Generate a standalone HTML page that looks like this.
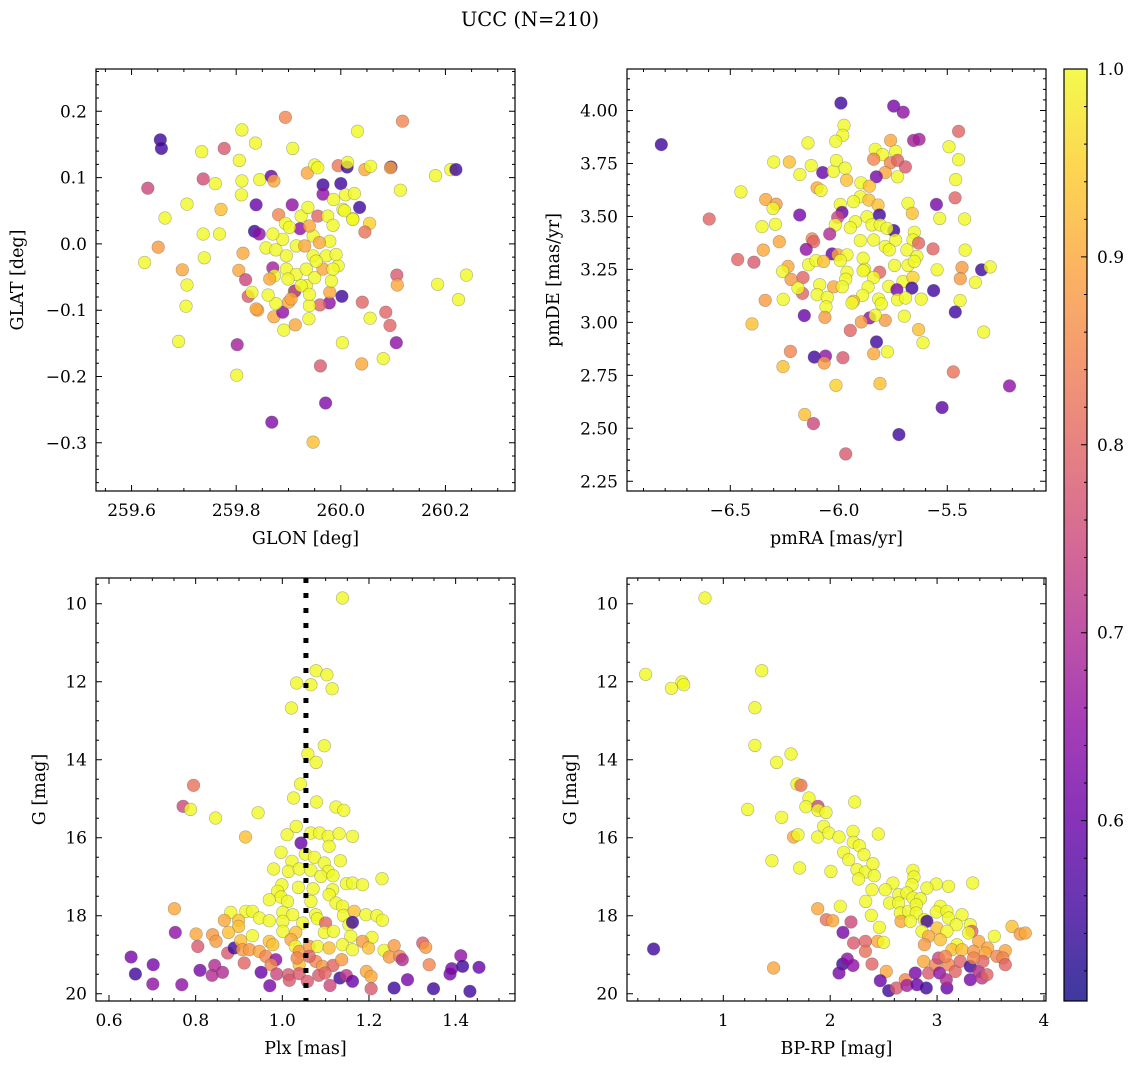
<!DOCTYPE html>
<html><head><meta charset="utf-8">
<style>
html,body{margin:0;padding:0;background:#fff;}
svg text{font-family:"DejaVu Serif","Liberation Serif",serif;fill:#000;}
</style></head>
<body>
<svg id="fig" width="1136" height="1068" viewBox="0 0 1136 1068" xmlns="http://www.w3.org/2000/svg">
<defs>
<linearGradient id="plasma" x1="0" y1="1" x2="0" y2="0">
<stop offset="0" stop-color="#0d0887"/><stop offset="0.1" stop-color="#41049d"/><stop offset="0.2" stop-color="#6a00a8"/><stop offset="0.3" stop-color="#8f0da4"/><stop offset="0.4" stop-color="#b12a90"/><stop offset="0.5" stop-color="#cc4778"/><stop offset="0.6" stop-color="#e16462"/><stop offset="0.7" stop-color="#f2844b"/><stop offset="0.8" stop-color="#fca636"/><stop offset="0.9" stop-color="#fcce25"/><stop offset="1" stop-color="#f0f921"/>
</linearGradient>
</defs>
<text x="530" y="26" font-size="19.5" text-anchor="middle">UCC (N=210)</text>
</svg>
<script>
// ---- Panel 1: GLON / GLAT ----
const p1Glon=[259.894,260.118,259.655,259.657,259.734,259.777,259.811,259.837,259.908,260.032,259.806,259.631,259.737,259.76,259.811,259.845,259.867,259.872,259.81,259.706,259.664,259.771,259.838,259.907,259.936,259.95,259.956,259.995,260.012,260.013,260.046,260.057,260.096,260.095,260.181,260.21,260.22,260.114,259.966,259.966,260.0,260.036,259.986,260.009,260.026,260.004,260.023,260.055,260.046,259.835,259.844,259.881,259.894,259.922,259.737,259.768,259.651,259.625,259.739,259.813,259.697,259.706,259.704,259.805,259.818,259.823,259.83,260.107,260.108,260.185,260.24,260.225,260.002,259.978,259.96,260.041,260.086,260.094,260.056,260.106,260.003,260.081,260.04,259.961,259.971,259.868,259.947,259.69,259.802,259.801,259.891,259.913,259.872,259.841,259.889,259.939,259.94,259.9,259.876,259.861,259.911,259.934,259.979,259.982,259.995,259.972,259.991,259.979,259.947,259.915,259.889,259.87,259.857,259.876,259.896,259.931,259.947,259.959,259.94,259.924,259.937,259.956,259.975,259.985,260.007,260.023,259.87,259.873,259.896,259.915,259.934,259.95,259.966,259.899,259.912,259.924,259.864,259.838,259.953,259.985,259.905,259.94,259.902];
const p1Glat=[0.191,0.185,0.157,0.144,0.139,0.144,0.172,0.152,0.144,0.17,0.126,0.084,0.098,0.091,0.095,0.097,0.102,0.095,0.074,0.06,0.039,0.052,0.059,0.059,0.107,0.119,0.115,0.118,0.116,0.123,0.112,0.117,0.116,0.115,0.103,0.112,0.112,0.081,0.089,0.075,0.091,0.055,0.067,0.074,0.076,0.052,0.038,0.031,0.018,0.019,0.015,0.044,0.031,0.023,0.015,0.015,-0.005,-0.028,-0.021,-0.014,-0.039,-0.062,-0.094,-0.04,-0.054,-0.079,-0.073,-0.047,-0.062,-0.061,-0.047,-0.084,-0.079,-0.089,-0.092,-0.088,-0.103,-0.123,-0.112,-0.149,-0.149,-0.173,-0.181,-0.184,-0.24,-0.269,-0.299,-0.147,-0.152,-0.198,-0.13,-0.122,-0.11,-0.1,-0.103,-0.113,-0.093,-0.088,-0.09,-0.077,-0.072,-0.063,-0.073,-0.056,-0.033,-0.018,-0.016,0.004,0.012,-0.003,0.007,0.015,-0.006,-0.009,-0.018,-0.003,-0.018,0.002,0.027,0.042,0.055,0.042,0.042,0.028,0.05,0.037,-0.036,-0.048,-0.038,-0.046,-0.038,-0.051,-0.038,-0.053,-0.071,-0.063,-0.053,-0.098,-0.026,-0.038,-0.083,-0.076,0.025];
const p1Prob=[0.85,0.85,0.55,0.55,1,0.78,1,1,1,1,1,0.75,0.76,1,1,1,0.6,0.9,1,1,1,0.93,0.6,0.65,0.9,1,1,0.83,0.55,1,0.9,1,0.55,0.9,1,1,0.55,1,0.55,0.65,0.55,0.55,1,1,1,1,1,0.95,0.82,0.55,0.65,0.85,1,0.65,1,1,0.88,1,1,0.9,0.9,1,1,0.9,0.75,0.78,1,0.78,0.9,1,1,1,0.55,0.65,0.8,0.8,0.8,0.8,1,0.65,1,1,0.9,0.78,0.63,0.63,0.93,1,0.68,1,1,0.9,0.9,0.9,0.65,1,1,0.9,1,1,1,1,0.9,1,1,1,1,1,1,1,1,1,1,1,1,0.9,1,0.9,0.9,1,1,0.8,1,1,1,1,0.68,1,1,1,1,1,0.9,1,0.7,1,0.9,0.9,1,1,0.9,1,1];
const p1XTicks=[259.6,259.8,260.0,260.2];
const p1YTicks=[0.2,0.1,0.0,-0.1,-0.2,-0.3];

// ---- Panel 2: pmRA / pmDE ----
const p2Pmra=[-6.818,-6.597,-5.99,-5.747,-5.703,-5.655,-5.63,-5.448,-5.976,-5.982,-6.014,-6.142,-5.761,-5.832,-5.798,-5.738,-5.839,-5.762,-5.729,-5.693,-5.786,-5.729,-5.827,-5.492,-5.448,-5.461,-5.464,-5.55,-5.42,-5.535,-6.3,-6.228,-6.127,-6.179,-6.074,-6.025,-6.011,-5.971,-5.964,-6.451,-6.337,-6.289,-6.303,-6.1,-6.082,-5.898,-5.859,-5.901,-5.932,-5.993,-5.861,-5.819,-5.681,-5.661,-6.18,-6.354,-6.292,-5.985,-6.005,-6.016,-6.042,-5.813,-5.87,-5.924,-5.847,-5.809,-5.947,-5.747,-5.778,-6.274,-6.348,-6.123,-6.116,-6.15,-5.901,-5.839,-5.786,-5.738,-5.652,-5.658,-5.632,-5.566,-5.418,-5.767,-5.686,-5.64,-6.031,-6.004,-5.962,-5.993,-5.888,-6.466,-6.391,-6.139,-6.105,-6.07,-6.234,-6.259,-5.881,-5.888,-5.812,-5.743,-5.681,-5.652,-5.547,-5.432,-5.342,-5.302,-5.962,-5.968,-5.839,-6.22,-6.165,-6.167,-6.188,-6.088,-6.024,-5.984,-5.865,-5.77,-5.704,-5.658,-5.663,-5.732,-5.44,-5.371,-5.563,-6.1,-6.053,-5.89,-5.932,-5.939,-5.816,-5.729,-5.692,-5.62,-5.441,-6.339,-6.256,-6.059,-5.804,-5.463,-6.159,-6.064,-5.858,-5.896,-5.786,-5.832,-5.698,-6.4,-5.947,-5.632,-5.612,-5.332,-5.826,-6.223,-6.113,-6.061,-6.067,-5.981,-5.839,-5.776,-6.257,-6.013,-5.81,-5.472,-5.213,-5.524,-6.157,-6.117,-5.723,-5.968];
const p2Pmde=[3.839,3.488,4.035,4.021,3.992,3.859,3.864,3.902,3.93,3.883,3.855,3.847,3.859,3.817,3.792,3.807,3.77,3.753,3.765,3.734,3.707,3.687,3.687,3.829,3.768,3.674,3.588,3.557,3.488,3.491,3.757,3.757,3.74,3.698,3.707,3.713,3.764,3.728,3.671,3.616,3.58,3.558,3.538,3.635,3.623,3.659,3.643,3.593,3.57,3.557,3.577,3.554,3.562,3.515,3.507,3.452,3.463,3.519,3.496,3.46,3.417,3.507,3.499,3.475,3.46,3.46,3.447,3.433,3.444,3.381,3.341,3.394,3.381,3.345,3.386,3.389,3.358,3.389,3.425,3.389,3.374,3.347,3.341,3.342,3.342,3.311,3.323,3.319,3.319,3.292,3.303,3.297,3.284,3.272,3.292,3.288,3.264,3.241,3.251,3.244,3.237,3.269,3.269,3.288,3.248,3.259,3.248,3.262,3.237,3.204,3.212,3.203,3.212,3.137,3.162,3.178,3.168,3.168,3.167,3.17,3.193,3.212,3.162,3.154,3.206,3.189,3.15,3.131,3.118,3.128,3.1,3.092,3.11,3.107,3.115,3.11,3.103,3.104,3.109,3.073,3.087,3.049,3.032,3.024,3.021,3.002,3.01,3.034,3.029,2.993,2.962,2.966,2.904,2.954,2.908,2.863,2.836,2.841,2.808,2.833,2.852,2.861,2.791,2.703,2.711,2.766,2.7,2.598,2.565,2.522,2.47,2.379];
const p2Prob=[0.55,0.8,0.55,0.62,0.65,0.68,0.68,0.8,1,1,1,1,0.9,1,1,1,0.85,0.85,0.8,0.78,0.9,1,0.62,1,1,1,0.8,0.62,1,1,1,0.93,1,1,0.6,1,1,1,0.93,1,0.9,0.88,1,0.9,1,1,0.93,1,1,1,0.93,0.93,1,0.93,0.62,1,1,0.6,0.75,1,0.7,0.55,1,1,1,1,1,0.55,1,0.9,0.9,0.85,0.8,0.65,1,1,1,1,1,1,0.8,0.8,1,1,1,1,0.6,0.9,1,1,1,0.8,0.78,1,1,0.93,0.9,1,1,1,0.8,1,1,1,1,0.88,0.55,1,1,1,1,0.88,0.8,0.8,1,1,0.9,1,1,1,1,0.95,0.55,0.62,0.88,1,0.55,1,1,1,0.93,1,1,1,1,1,1,0.88,1,1,1,0.55,0.6,0.88,0.65,0.88,0.88,1,1,0.93,0.8,0.93,1,1,0.55,0.85,0.55,0.65,0.88,0.78,0.9,1,0.93,0.95,0.93,0.82,0.65,0.58,0.93,0.75,0.55,0.78];
const p2XTicks=[-6.5,-6.0,-5.5];
const p2YTicks=[4.0,3.75,3.5,3.25,3.0,2.75,2.5,2.25];

// ---- Panel 3: Plx / G ----
const p3Plx=[1.139,1.078,1.103,1.033,1.066,1.115,1.021,1.097,1.059,1.078,1.042,0.795,0.771,0.788,0.846,0.944,1.026,1.079,1.124,1.142,0.915,1.011,1.032,1.066,1.086,1.106,1.131,1.162,1.043,1.108,0.997,1.053,1.074,1.022,1.134,1.097,0.98,1.014,1.039,1.066,1.106,1.089,1.117,1.23,1.148,1.162,1.185,0.999,1.037,1.071,1.116,0.989,0.997,1.108,0.97,1.012,1.066,1.124,1.139,0.751,0.881,0.916,0.931,0.947,0.97,1.001,1.024,1.077,1.081,1.1,1.141,1.166,1.193,1.218,1.231,0.866,0.899,0.899,1.001,1.047,1.154,1.162,0.753,0.801,0.839,0.847,0.876,0.931,1.001,1.031,1.097,1.118,1.158,1.207,0.805,0.874,0.889,0.904,0.908,0.924,0.947,0.97,0.978,0.962,0.985,1.02,1.03,1.039,1.062,1.081,1.108,1.139,1.162,1.185,1.199,1.235,1.258,1.247,1.271,1.277,1.324,1.331,1.339,0.912,0.974,1.039,1.077,1.093,1.117,1.137,1.062,1.034,0.651,0.661,0.702,0.701,0.768,0.81,0.838,0.844,0.862,0.951,0.971,0.987,1.014,1.016,1.039,1.058,1.084,1.099,1.11,1.133,1.148,1.162,1.194,1.205,1.205,1.258,1.289,1.349,1.387,1.391,1.412,1.416,1.454,1.433];
const p3G=[9.854,11.717,11.82,12.033,12.076,12.179,12.674,13.64,13.854,14.068,14.623,14.657,15.196,15.273,15.495,15.358,14.982,15.085,15.213,15.298,15.982,15.922,15.709,15.879,15.879,15.965,15.897,15.965,16.136,16.221,16.375,16.418,16.503,16.606,16.589,16.649,16.803,16.863,16.803,16.837,16.863,16.991,16.974,17.05,17.179,17.162,17.204,17.204,17.273,17.307,17.333,17.375,17.521,17.461,17.589,17.632,17.632,17.674,17.76,17.82,17.914,17.888,17.888,18.059,18.127,17.914,17.974,17.974,18.076,18.187,17.991,17.888,17.974,18.0,18.119,18.119,18.119,18.273,18.144,18.187,18.23,18.17,18.427,18.469,18.486,18.657,18.427,18.512,18.401,18.427,18.427,18.401,18.529,18.555,18.786,18.957,18.828,18.641,18.871,18.871,18.914,18.657,18.743,19.042,19.127,18.614,18.786,18.914,18.786,18.786,18.828,18.743,18.871,18.657,18.828,18.888,18.768,19.059,19.042,19.127,18.7,18.811,19.256,19.213,19.256,19.256,19.17,19.298,19.273,19.127,19.042,19.085,19.059,19.495,19.256,19.752,19.769,19.401,19.529,19.273,19.452,19.452,19.794,19.495,19.512,19.657,19.486,19.683,19.529,19.469,19.786,19.597,19.537,19.683,19.427,19.555,19.871,19.854,19.64,19.871,19.495,19.358,19.025,19.298,19.324,19.939];
const p3Prob=[1,1,1,1,1,1,1,1,1,1,1,0.82,0.75,1,1,1,1,1,1,1,0.93,1,1,1,1,1,1,1,0.6,1,1,1,1,1,1,1,1,1,1,1,1,1,1,1,1,1,1,1,1,1,1,1,1,1,1,1,1,1,1,0.9,1,1,1,1,1,1,1,1,1,0.8,1,0.93,1,1,1,0.9,0.93,0.93,1,1,1,0.55,0.65,0.9,0.88,0.88,0.93,1,1,0.93,1,1,1,1,0.78,0.78,0.55,0.93,0.88,0.88,0.9,0.93,0.93,0.85,0.65,0.9,1,0.88,0.88,1,0.93,1,1,0.88,0.93,1,0.88,0.88,0.85,0.7,0.78,0.88,0.85,0.8,0.85,0.93,0.85,0.88,0.8,0.88,0.8,0.85,0.62,0.55,0.62,0.65,0.65,0.62,0.7,0.7,0.7,0.6,0.62,0.75,0.78,0.78,0.78,0.78,0.78,0.8,0.75,0.55,0.72,0.6,0.9,0.9,0.78,0.55,0.62,0.55,0.62,0.62,0.65,0.55,0.6,0.55];
const p3XTicks=[0.6,0.8,1.0,1.2,1.4];
const p3YTicks=[10,12,14,16,18,20];
const p3PlxMedian=1.0545;

// ---- Panel 4: BP-RP / G ----
const p4Bprp=[0.829,0.274,0.514,0.614,0.629,1.359,1.296,1.296,1.633,1.499,1.689,1.727,1.228,1.546,1.802,1.773,1.886,1.886,1.961,2.229,1.658,1.699,1.883,1.939,1.986,2.082,2.213,2.216,2.272,2.45,1.455,1.714,2.007,2.126,2.173,2.316,2.251,2.329,2.4,2.413,2.266,2.774,2.784,2.587,2.765,2.993,3.108,3.333,2.391,2.516,2.643,2.718,2.905,2.332,2.556,2.64,2.774,2.843,2.095,1.883,2.656,2.734,2.806,2.806,3.03,2.993,3.092,3.108,3.233,2.385,1.964,2.023,2.195,2.662,2.75,2.881,2.905,3.18,3.311,3.326,3.295,3.701,3.778,3.825,3.535,2.12,2.46,2.859,2.999,3.092,2.921,2.444,2.5,2.219,2.329,2.329,2.881,3.03,3.186,3.139,3.233,3.389,3.473,3.342,3.451,3.638,3.56,3.616,3.638,1.471,0.348,2.117,2.082,2.16,2.213,2.391,2.525,2.469,2.547,2.619,2.703,2.718,2.796,2.812,2.899,2.921,2.983,3.014,3.024,3.092,3.086,3.108,3.17,3.217,3.311,3.311,3.389,3.42,3.467,3.429,3.342,2.874,3.077];
const p4G=[9.854,11.811,12.17,12.008,12.076,11.717,12.666,13.632,13.854,14.068,14.623,14.657,15.273,15.478,14.982,15.204,15.196,15.298,15.35,15.085,15.982,15.922,15.982,15.709,15.879,15.982,15.837,16.119,16.204,15.905,16.589,16.777,16.863,16.375,16.563,16.435,16.82,16.88,16.666,16.974,17.059,16.837,17.008,17.162,17.204,17.187,17.247,17.162,17.333,17.333,17.461,17.418,17.29,17.632,17.674,17.674,17.546,17.563,17.76,17.82,17.931,17.888,17.717,17.931,17.76,17.905,17.888,18.059,17.974,17.991,18.102,18.127,18.161,18.144,18.144,18.102,18.144,18.23,18.23,18.401,18.444,18.273,18.469,18.444,18.529,18.427,18.298,18.401,18.316,18.401,18.529,18.657,18.683,18.7,18.657,18.913,18.743,18.614,18.743,18.871,18.871,18.657,18.828,18.914,18.957,18.896,19.042,19.085,19.256,19.341,18.854,19.239,19.469,19.111,19.273,19.239,19.427,19.666,19.922,19.854,19.64,19.786,19.469,19.769,19.854,19.469,19.256,19.085,19.469,19.854,19.64,19.256,19.427,19.17,19.298,19.64,19.427,19.597,19.512,19.17,19.085,19.17,19.042];
const p4Prob=[1,1,1,1,1,1,1,1,1,1,1,0.82,1,1,1,1,0.75,1,1,1,0.9,1,1,1,1,1,1,1,1,1,1,1,1,1,1,1,1,1,1,1,1,1,1,1,1,1,1,1,1,1,1,1,1,1,1,1,1,1,1,0.9,1,1,1,1,1,1,1,1,1,1,0.82,0.9,0.75,0.9,1,1,0.55,1,1,0.8,1,0.93,0.88,0.9,1,0.62,1,1,0.93,1,0.9,0.9,1,0.78,0.8,0.82,0.88,0.93,1,0.93,0.93,0.9,0.9,0.88,0.9,0.9,0.85,0.85,0.8,0.9,0.55,0.55,0.62,0.65,0.65,0.8,0.9,0.6,0.55,0.78,0.85,0.68,0.62,0.6,0.55,0.78,0.85,0.75,0.65,0.6,0.7,0.85,0.8,0.8,0.55,0.62,0.7,0.72,0.8,0.8,0.85,0.9,0.85];
const p4XTicks=[1,2,3,4];
const p4YTicks=[10,12,14,16,18,20];

// ---- Colorbar ----
const cbTicks=[0.6,0.7,0.8,0.9,1.0];
const cbMin=0.504, cbMax=1.0;

const NS='http://www.w3.org/2000/svg';
const svg=document.getElementById('fig');
function mk(tag,attrs,parent){const e=document.createElementNS(NS,tag);for(const k in attrs)e.setAttribute(k,attrs[k]);(parent||svg).appendChild(e);return e;}
const stops=[[0,[13,8,135]],[0.1,[65,4,157]],[0.2,[106,0,168]],[0.3,[143,13,164]],[0.4,[177,42,144]],[0.5,[204,71,120]],[0.6,[225,100,98]],[0.7,[242,132,75]],[0.8,[252,166,54]],[0.9,[252,206,37]],[1,[240,249,33]]];
function plasma(v){let t=(v-cbMin)/(cbMax-cbMin);t=Math.max(0,Math.min(1,t));for(let i=1;i<stops.length;i++){if(t<=stops[i][0]){const a=stops[i-1],b=stops[i];const f=(t-a[0])/(b[0]-a[0]);const c=a[1].map((x,j)=>Math.round(x+(b[1][j]-x)*f));return 'rgb('+c.join(',')+')';}}return 'rgb(240,249,33)';}
function fmt(v,d){const s=Math.abs(v).toFixed(d);return (v<0?'\u2212':'')+s;}

function panel(cfg){
  const g=mk('g',{});
  
  
  const sx=v=>cfg.x0+(v-cfg.xd[0])/(cfg.xd[1]-cfg.xd[0])*(cfg.x1-cfg.x0);
  const sy=v=>cfg.y0+(v-cfg.yd[0])/(cfg.yd[1]-cfg.yd[0])*(cfg.y1-cfg.y0);
  const pg=mk('g',{},g);
  
  
  for(let i=0;i<cfg.xs.length;i++){
    const c=mk('circle',{cx:sx(cfg.xs[i]).toFixed(1),cy:sy(cfg.ys[i]).toFixed(1),r:6.3,fill:plasma(cfg.ps[i]),'fill-opacity':0.8,stroke:'#555','stroke-opacity':0.45,'stroke-width':0.6},pg);
    
    
  }
  if(cfg.extra)cfg.extra(g,sx,sy);
  const fr=mk('rect',{x:cfg.x0,y:cfg.y0,width:cfg.x1-cfg.x0,height:cfg.y1-cfg.y0,fill:'none',stroke:'#000','stroke-width':1.2},g);
  
  
  const tk=[];
  const xlo=Math.min(cfg.xd[0],cfg.xd[1]),xhi=Math.max(cfg.xd[0],cfg.xd[1]);
  for(let v=Math.ceil(xlo/cfg.xminor-1e-6)*cfg.xminor;v<=xhi+1e-9;v+=cfg.xminor){
    const major=cfg.xticks.some(t=>Math.abs(t-v)<1e-6);const L=major?6:3;const X=sx(v);
    tk.push(`M${X},${cfg.y1}v${-L}M${X},${cfg.y0}v${L}`);
  }
  const ylo=Math.min(cfg.yd[0],cfg.yd[1]),yhi=Math.max(cfg.yd[0],cfg.yd[1]);
  for(let v=Math.ceil(ylo/cfg.yminor-1e-6)*cfg.yminor;v<=yhi+1e-9;v+=cfg.yminor){
    const major=cfg.yticks.some(t=>Math.abs(t-v)<1e-6);const L=major?6:3;const Y=sy(v);
    tk.push(`M${cfg.x0},${Y}h${L}M${cfg.x1},${Y}h${-L}`);
  }
  const tp=mk('path',{d:tk.join(''),stroke:'#000','stroke-width':1,fill:'none'},g);
  
  
  cfg.xticks.forEach(v=>{const t=mk('text',{x:sx(v),y:cfg.y1+25,'font-size':17,'text-anchor':'middle'},g);t.textContent=fmt(v,cfg.xdec);
    
    });
  cfg.yticks.forEach(v=>{const t=mk('text',{x:cfg.x0-9,y:sy(v)+6,'font-size':17,'text-anchor':'end'},g);t.textContent=fmt(v,cfg.ydec);
    
    });
  const xl=mk('text',{x:(cfg.x0+cfg.x1)/2,y:cfg.y1+53,'font-size':17.5,'text-anchor':'middle'},g);xl.textContent=cfg.xlabel;
  
  
  const yl=mk('text',{x:0,y:0,'font-size':17.5,'text-anchor':'middle',transform:`translate(${cfg.ylx},${(cfg.y0+cfg.y1)/2}) rotate(-90)`},g);yl.textContent=cfg.ylabel;
  
  
}

panel({name:'glon-glat-panel',x0:96,x1:515,y0:69,y1:491,xd:[259.532,260.333],yd:[0.2638,-0.3727],xs:p1Glon,ys:p1Glat,ps:p1Prob,xticks:p1XTicks,yticks:p1YTicks,xminor:0.05,yminor:0.02,xdec:1,ydec:1,xlabel:'GLON [deg]',ylabel:'GLAT [deg]',ylx:23});
panel({name:'pm-panel',x0:627,x1:1046,y0:69,y1:491,xd:[-6.976,-5.045],yd:[4.196,2.204],xs:p2Pmra,ys:p2Pmde,ps:p2Prob,xticks:p2XTicks,yticks:p2YTicks,xminor:0.1,yminor:0.05,xdec:1,ydec:2,xlabel:'pmRA [mas/yr]',ylabel:'pmDE [mas/yr]',ylx:559});
panel({name:'plx-g-panel',x0:96,x1:515,y0:578,y1:1001,xd:[0.570,1.537],yd:[9.341,20.187],xs:p3Plx,ys:p3G,ps:p3Prob,xticks:p3XTicks,yticks:p3YTicks,xminor:0.05,yminor:0.5,xdec:1,ydec:0,xlabel:'Plx [mas]',ylabel:'G [mag]',ylx:45,
  extra:(g,sx,sy)=>{const X=sx(p3PlxMedian);const l=mk('line',{x1:X,x2:X,y1:578,y2:1001,stroke:'#000','stroke-width':5,'stroke-dasharray':'5 10'},g);
    
    }});
panel({name:'cmd-panel',x0:627,x1:1046,y0:578,y1:1001,xd:[0.099,4.019],yd:[9.341,20.187],xs:p4Bprp,ys:p4G,ps:p4Prob,xticks:p4XTicks,yticks:p4YTicks,xminor:0.2,yminor:0.5,xdec:0,ydec:0,xlabel:'BP-RP [mag]',ylabel:'G [mag]',ylx:576});

(function(){
  const cx0=1064,cx1=1087,cy0=69,cy1=1001;
  const g=mk('g',{});
  
  
  mk('rect',{x:cx0,y:cy0,width:cx1-cx0,height:cy1-cy0,fill:'url(#plasma)','fill-opacity':0.8},g);
  mk('rect',{x:cx0,y:cy0,width:cx1-cx0,height:cy1-cy0,fill:'none',stroke:'#000','stroke-width':1.2},g);
  const sy=v=>cy1-(v-cbMin)/(cbMax-cbMin)*(cy1-cy0);
  const d=[];
  for(let v=0.52;v<=1.0001;v+=0.02){const major=cbTicks.some(t=>Math.abs(t-v)<1e-6);d.push(`M${cx1},${sy(v)}h${major?-6:-3}`);}
  mk('path',{d:d.join(''),stroke:'#000','stroke-width':1},g);
  cbTicks.forEach(v=>{const t=mk('text',{x:cx1+10,y:sy(v)+6,'font-size':17},g);t.textContent=v.toFixed(1);
    
    });
})();
</script>
</body></html>
